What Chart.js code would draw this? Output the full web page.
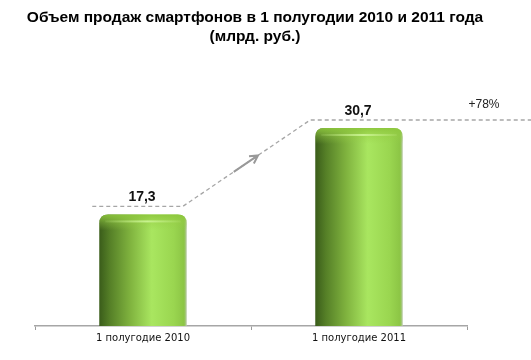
<!DOCTYPE html>
<html>
<head>
<meta charset="utf-8">
<script src="https://cdn.jsdelivr.net/npm/chart.js@4.4.1/dist/chart.umd.min.js"></script>
<style>
  html, body { margin: 0; padding: 0; background: #ffffff; }
  #wrap { width: 531px; height: 360px; }
</style>
</head>
<body>
<div id="wrap"><canvas id="c" width="531" height="360"></canvas></div>
<script>
const categories = ['1 полугодие 2010', '1 полугодие 2011'];
const salesValues = [17.3, 30.7];
const valueLabels = ['17,3', '30,7'];
const titleLines = ['Объем продаж смартфонов в 1 полугодии 2010 и 2011 года', '(млрд. руб.)'];
const growthLabel = '+78%';

function capPath(ctx, l, t, w, b, r) {
  ctx.beginPath();
  ctx.moveTo(l, b);
  ctx.lineTo(l, t + r);
  ctx.quadraticCurveTo(l, t, l + r, t);
  ctx.lineTo(l + w - r, t);
  ctx.quadraticCurveTo(l + w, t, l + w, t + r);
  ctx.lineTo(l + w, b);
  ctx.closePath();
}

const titlePlugin = {
  id: 'customTitle',
  afterDraw(chart) {
    const ctx = chart.ctx;
    ctx.save();
    ctx.fillStyle = '#000000';
    ctx.font = 'bold 15.5px "Liberation Sans", Arial, sans-serif';
    ctx.textAlign = 'center';
    ctx.textBaseline = 'middle';
    titleLines.forEach((line, i) => ctx.fillText(line, 255, 18 + i * 19));
    ctx.restore();
  }
};

const cylinderPlugin = {
  id: 'cylinder',
  afterDatasetsDraw(chart) {
    const ctx = chart.ctx;
    const meta = chart.getDatasetMeta(0);
    meta.data.forEach(bar => {
      const l = bar.x - bar.width / 2, w = bar.width, t = bar.y, b = bar.base;
      ctx.save();
      const g = ctx.createLinearGradient(l, 0, l + w, 0);
      g.addColorStop(0, '#3a5c1a');
      g.addColorStop(0.12, '#557f27');
      g.addColorStop(0.35, '#7fb23e');
      g.addColorStop(0.6, '#a9e660');
      g.addColorStop(0.85, '#9ad650');
      g.addColorStop(0.97, '#8cc545');
      g.addColorStop(1, '#b9c9a8');
      capPath(ctx, l, t, w, b, 9);
      ctx.fillStyle = g;
      ctx.fill();
      const cg = ctx.createLinearGradient(0, t, 0, t + 16);
      cg.addColorStop(0, 'rgba(140,198,60,0.9)');
      cg.addColorStop(0.5, 'rgba(150,205,70,0.4)');
      cg.addColorStop(1, 'rgba(150,205,70,0)');
      capPath(ctx, l, t, w, t + 16, 9);
      ctx.fillStyle = cg;
      ctx.fill();
      const hg = ctx.createLinearGradient(l, 0, l + w, 0);
      hg.addColorStop(0, 'rgba(200,240,140,0)');
      hg.addColorStop(0.55, 'rgba(205,245,150,0.9)');
      hg.addColorStop(1, 'rgba(200,240,140,0)');
      ctx.fillStyle = hg;
      ctx.fillRect(l + 6, t + 6, w - 12, 2);
      ctx.restore();
    });
  }
};

const annotationPlugin = {
  id: 'annot',
  afterDraw(chart) {
    const ctx = chart.ctx;
    const meta = chart.getDatasetMeta(0);
    const b1 = meta.data[0], b2 = meta.data[1];
    const y1 = b1.y - 8, y2 = b2.y - 8;
    const x1a = b1.x - b1.width / 2 - 7, x1b = b1.x + b1.width / 2 - 4;
    const x2a = b2.x - b2.width / 2 - 5;
    ctx.save();
    ctx.strokeStyle = '#a6a6a6';
    ctx.lineWidth = 1.3;
    ctx.setLineDash([4, 3]);
    ctx.beginPath();
    ctx.moveTo(x1a, y1);
    ctx.lineTo(x1b, y1);
    ctx.lineTo(x2a, y2);
    ctx.lineTo(chart.width, y2);
    ctx.stroke();
    ctx.setLineDash([]);
    const f0 = 0.4, f1 = 0.59;
    const ax0 = x1b + (x2a - x1b) * f0, ay0 = y1 + (y2 - y1) * f0;
    const ax1 = x1b + (x2a - x1b) * f1, ay1 = y1 + (y2 - y1) * f1;
    ctx.strokeStyle = '#999999';
    ctx.lineWidth = 2;
    ctx.beginPath();
    ctx.moveTo(ax0, ay0);
    ctx.lineTo(ax1, ay1);
    const ang = Math.atan2(ay1 - ay0, ax1 - ax0);
    const hl = 9;
    ctx.moveTo(ax1 - hl * Math.cos(ang - 0.5), ay1 - hl * Math.sin(ang - 0.5));
    ctx.lineTo(ax1, ay1);
    ctx.lineTo(ax1 - hl * Math.cos(ang + 0.5), ay1 - hl * Math.sin(ang + 0.5));
    ctx.stroke();
    ctx.fillStyle = '#111111';
    ctx.font = 'bold 14px "Liberation Sans", Arial, sans-serif';
    ctx.textAlign = 'center';
    ctx.textBaseline = 'middle';
    meta.data.forEach((bar, i) => {
      ctx.fillText(valueLabels[i], bar.x - 1, bar.y - 17);
    });
    ctx.font = '12px "Liberation Sans", Arial, sans-serif';
    ctx.fillStyle = '#222222';
    ctx.fillText(growthLabel, 484, y2 - 15);
    ctx.restore();
  }
};

new Chart(document.getElementById('c'), {
  type: 'bar',
  data: {
    labels: categories,
    datasets: [{
      data: salesValues,
      backgroundColor: 'rgba(0,0,0,0)',
      borderWidth: 0,
      barPercentage: 0.81,
      categoryPercentage: 0.5
    }]
  },
  options: {
    responsive: false,
    animation: false,
    layout: { padding: { left: 35, right: 64, top: 68, bottom: 14 } },
    plugins: {
      legend: { display: false },
      tooltip: { enabled: false },
      title: { display: false }
    },
    scales: {
      x: {
        grid: { display: true, drawOnChartArea: false, drawTicks: true, tickLength: 4, offset: true, color: '#9a9a9a' },
        border: { display: true, color: '#a6a6a6', width: 1.5 },
        ticks: { color: '#111111', font: { family: '"DejaVu Sans", Verdana, sans-serif', size: 10 }, padding: 2 }
      },
      y: {
        display: false,
        min: 0,
        max: 40
      }
    }
  },
  plugins: [cylinderPlugin, annotationPlugin, titlePlugin]
});
</script>
</body>
</html>
